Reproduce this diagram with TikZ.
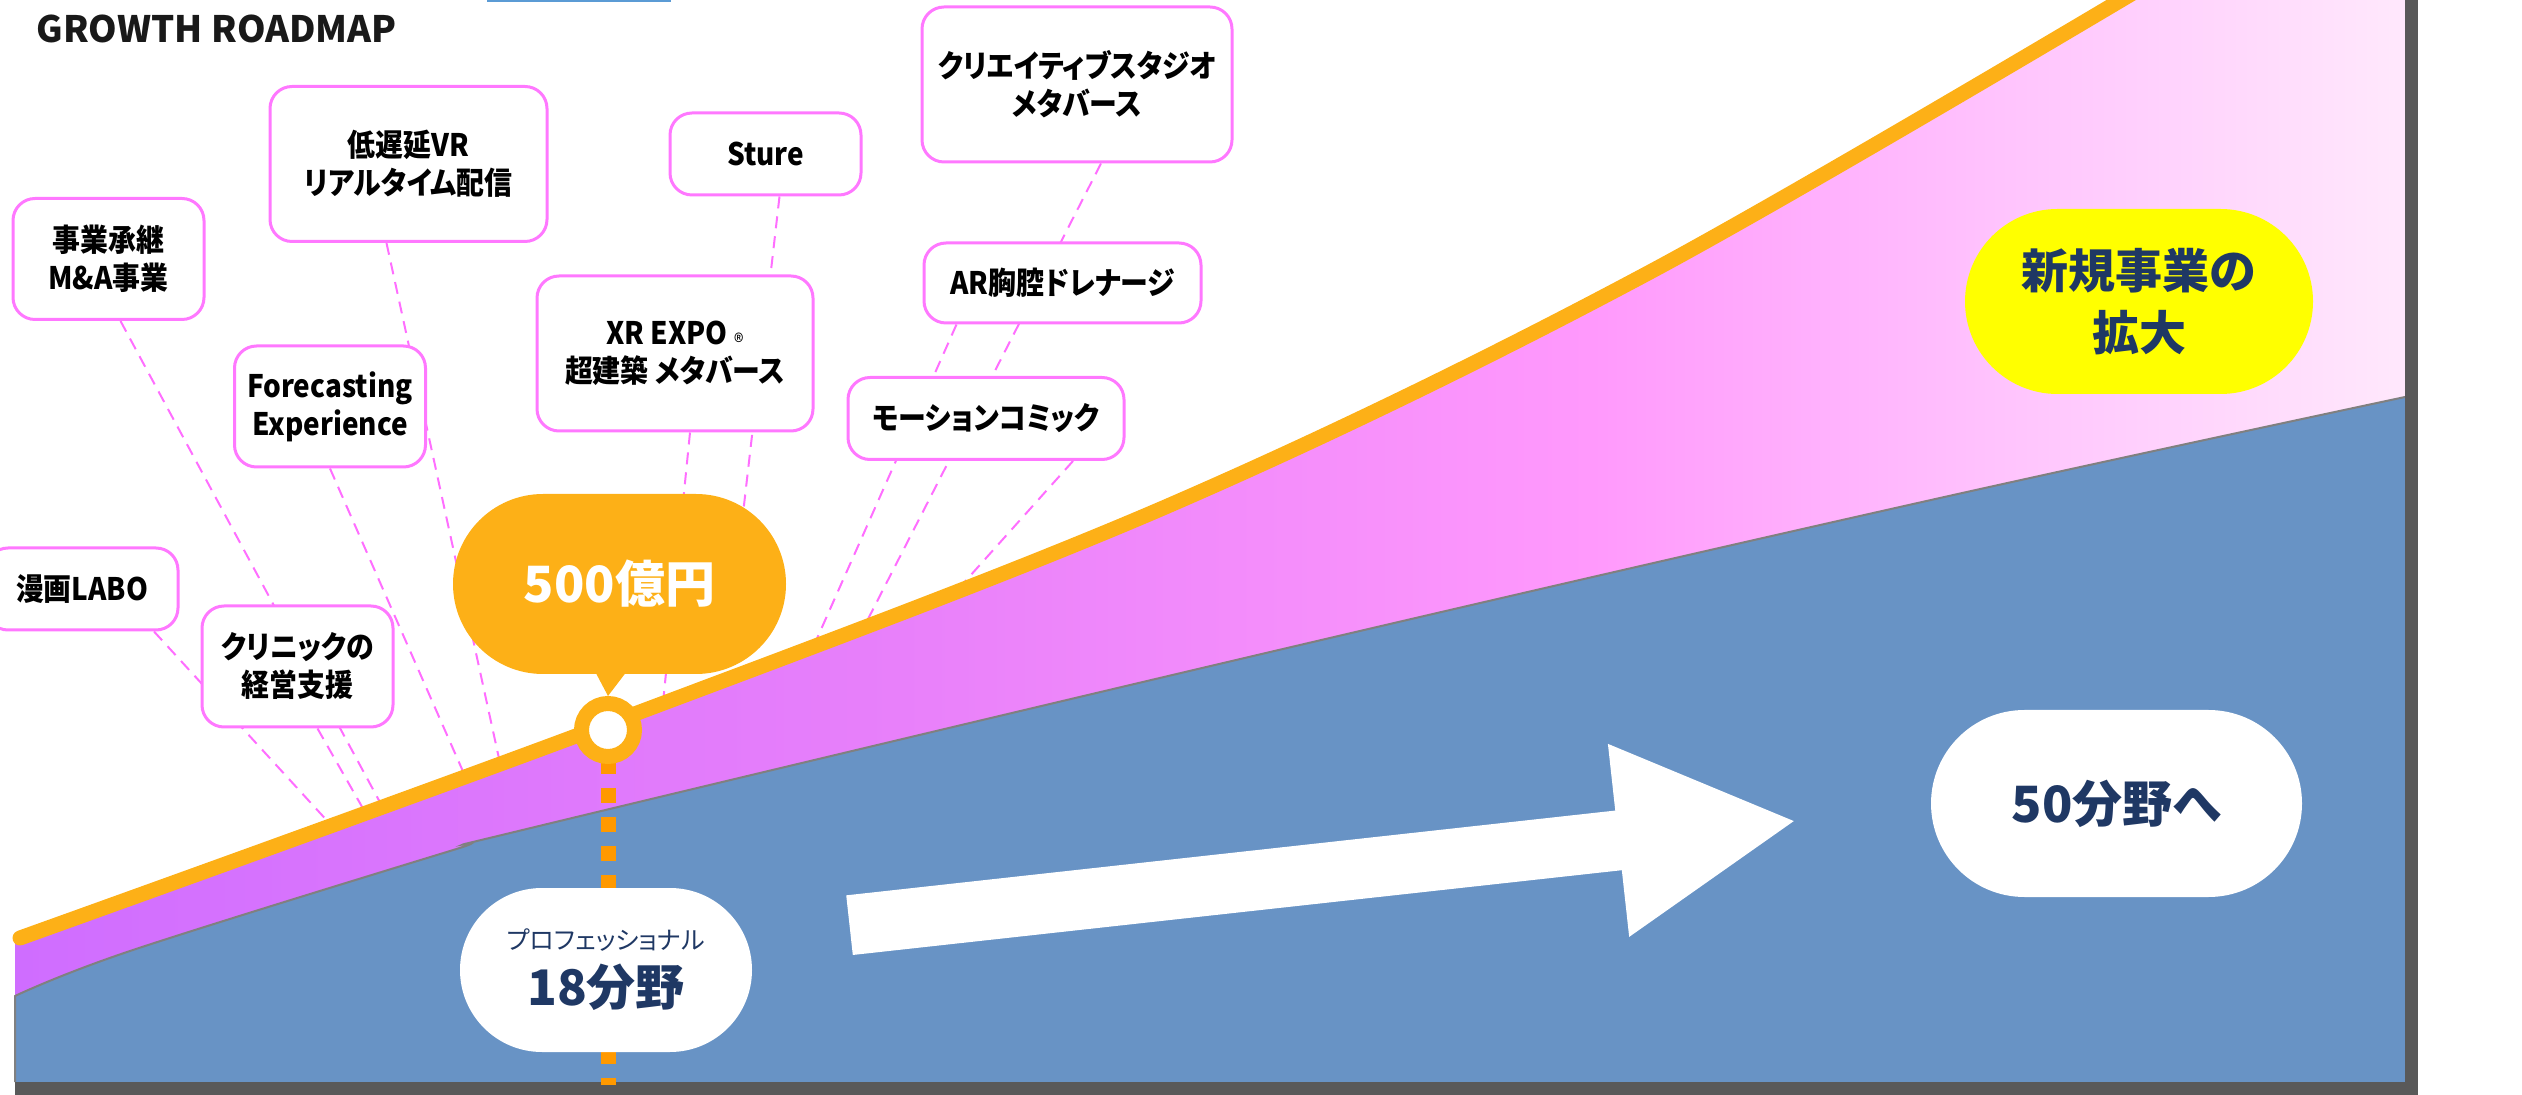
\documentclass[tikz,border=0pt]{standalone}
\usepackage{fontspec}
\setmainfont{Noto Sans CJK JP}[RawFeature={+palt}]
\newfontfamily\tagfont{Noto Sans CJK JP}[RawFeature={+palt}, FakeStretch=0.9]
\usetikzlibrary{shapes.misc,arrows.meta,positioning}

\definecolor{roadorange}{RGB}{253,176,23}
\definecolor{stemorange}{RGB}{255,153,0}
\definecolor{fieldblue}{RGB}{104,147,197}
\definecolor{framegray}{RGB}{89,89,89}
\definecolor{edgegray}{RGB}{128,128,128}
\definecolor{navytext}{RGB}{31,56,100}
\definecolor{tagpink}{RGB}{255,120,255}
\definecolor{linkpink}{RGB}{255,110,255}
\definecolor{hiyellow}{RGB}{255,255,0}
\definecolor{topblue}{RGB}{91,155,213}
\definecolor{pu1}{RGB}{207,109,255}
\definecolor{pu2}{RGB}{232,128,250}
\definecolor{pu3}{RGB}{255,153,252}
\definecolor{pu4}{RGB}{255,195,253}
\definecolor{pu5}{RGB}{255,232,252}

\pgfdeclarehorizontalshading{newbizfade}{100bp}{color(0bp)=(pu1); color(25bp)=(pu1);
  color(43.5bp)=(pu2); color(58bp)=(pu3); color(66.5bp)=(pu4); color(75bp)=(pu5); color(100bp)=(pu5)}

\pgfdeclarelayer{back}
\pgfdeclarelayer{links}
\pgfsetlayers{back,links,main}

\begin{document}
\begin{tikzpicture}[
    %---- pixel grid of the slide, y downwards ----
    x=0.5pt, y=-0.5pt,
    tagbox/.style   = {rectangle, draw=tagpink, line width=1.5pt, fill=white,
                       rounded corners=11pt, align=center, inner sep=0pt,
                       text=black, font=\tagfont\fontsize{15.5}{19}\selectfont\bfseries,
                       minimum width=95.5pt, minimum height=60.5pt},
    widebox/.style  = {tagbox, minimum width=138.5pt, minimum height=77.5pt},
    flatbox/.style  = {minimum height=41pt},
    pill/.style     = {rounded rectangle, inner sep=0pt, align=center},
    link/.style     = {draw=linkpink, line width=1pt, dash pattern=on 6pt off 4pt},
    growth/.style   = {draw=roadorange, line width=7.5pt, line cap=round},
    stem/.style     = {draw=stemorange, line width=7.5pt, dash pattern=on 7.5pt off 7pt},
    bigarrow/.style = {draw=white, line width=30pt, -{Triangle[length=90pt, width=90pt]},
                       shorten <=122.5pt, shorten >=160.5pt},
]
\useasboundingbox (0,0) rectangle (2522,1095);

%---- growth line points ----
\coordinate (g0) at (20,938);
\coordinate (g1) at (608,724);
\coordinate (g2) at (1170,505);
\coordinate (g3) at (1650,272);
\coordinate (g4) at (2180,-35);

%---- AREAS ----
\begin{pgfonlayer}{back}
  \shade[shading=newbizfade] (15,1082) -- (15,938) -- plot[smooth, tension=0.55]
        coordinates {(g0) (g1) (g2) (g3) (g4)} -- (2405,-35) -- (2405,1082) -- cycle;
  \fill[fieldblue] plot[smooth, tension=0.6] coordinates {(15,996) (133,950) (450,851) (535,827)
        (1300,645) (1931,500) (2405,397)} -- (2405,1082) -- (15,1082) -- cycle;
  \draw[edgegray, line width=1pt] (15,1082) -- plot[smooth, tension=0.6] coordinates {(15,996)
        (133,950) (450,851) (535,827) (1300,645) (1931,500) (2405,397)};
  \fill[framegray] (15,1082) rectangle (2418,1100);
  \fill[framegray] (2405,-5) rectangle (2418,1100);
  \draw[topblue, line width=2pt] (487,0) -- (671,0);
\end{pgfonlayer}

%---- TITLE ----
\node (title) [anchor=base west, inner sep=0pt, text=black!90, font=\fontsize{18.2}{22}\selectfont\bfseries]
      at (36,43) {GROWTH ROADMAP};

%---- PROJECT BOXES ----
\node (jigyo)    [tagbox]                           at (108.5,259)  {事業承継\\M\&A事業};
\node (teichien) [widebox]                          at (408.5,164)  {低遅延VR\\リアルタイム配信};
\node (forecast) [tagbox]                           at (330,406.5)  {Forecasting\\Experience};
\node (manga)    [tagbox, flatbox, minimum width=96pt] at (82,589)  {漫画LABO};
\node (clinic)   [tagbox]                           at (297.5,666.5){クリニックの\\経営支援};
\node (sture)    [tagbox, flatbox]                  at (765.5,154)  {Sture};
\node (creative) [widebox, minimum width=155pt]     at (1077,84.5)  {クリエイティブスタジオ\\メタバース};
\node (xrexpo)   [widebox, minimum width=138pt]     at (675,353.5)
      {XR EXPO {\fontsize{11}{10}\selectfont\mdseries\raisebox{-3pt}{®}}\\超建築 メタバース};
\node (ar)       [widebox, flatbox, minimum height=40pt] at (1062.5,283) {AR胸腔ドレナージ};
\node (motion)   [widebox, flatbox, minimum width=138pt] at (986,418.5)  {モーションコミック};

%---- FIGURES ----
\node (revenue) [pill, fill=roadorange, minimum width=166.5pt, minimum height=90pt, text=white,
                 font=\fontsize{25}{30}\selectfont\bfseries] at (619.5,584) {500億円};
\node (marker)  [circle, draw=roadorange, line width=7.5pt, fill=white, minimum size=26.5pt,
                 inner sep=0pt] at (608,730) {};
\node (pro)     [pill, fill=white, minimum width=146pt, minimum height=82pt, text=navytext,
                 font=\fontsize{24.5}{25}\selectfont] at (606,970)
      {{\fontsize{12.5}{15}\selectfont プロフェッショナル}\\[3pt]{\bfseries 18分野}};
\node (fifty)   [pill, fill=white, minimum width=185.5pt, minimum height=93.5pt, text=navytext,
                 font=\fontsize{25}{30}\selectfont\bfseries] at (2116.5,803.5) {50分野へ};
\node (expand)  [pill, fill=hiyellow, minimum width=174pt, minimum height=92.5pt, text=navytext,
                 font=\fontsize{23.5}{31}\selectfont\bfseries] at (2139,301.5) {新規事業の\\拡大};

%---- LINE FEET ----
\coordinate (manga-foot)    at (331,825);
\coordinate (jigyo-foot)    at (382,806);
\coordinate (clinic-foot)   at (365,812);
\coordinate (forecast-foot) at (465,776);
\coordinate (teichien-foot) at (500,763);
\coordinate (xrexpo-foot)   at (663,703);
\coordinate (sture-foot)    at (724,679);
\coordinate (ar-foot)       at (815,643);
\coordinate (creative-foot) at (866,623);
\coordinate (motion-foot)   at (961,586);
\coordinate (stem-foot)     at (608,1085);

%---- CONNECTORS ----
\begin{pgfonlayer}{links}
  \foreach \src/\dx in {manga/36, jigyo/6, clinic/10, forecast/0, teichien/-11,
                        xrexpo/7.5, sture/7, ar/-53, creative/12, motion/43.5}
    \draw[link] ([xshift=\dx pt]\src.south) -- (\src-foot);
  \draw[growth] plot[smooth, tension=0.55] coordinates {(g0) (g1) (g2) (g3) (g4)};
  \draw[stem] (marker.center) -- (stem-foot);
  \fill[roadorange] ([xshift=-12.5pt, yshift=2pt]revenue.south) -- ([xshift=4pt, yshift=2pt]revenue.south)
        -- (marker.north) -- cycle;
  \draw[bigarrow] ([yshift=9pt]pro.center) -- ([yshift=9pt]fifty.center);
\end{pgfonlayer}
\end{tikzpicture}
\end{document}
